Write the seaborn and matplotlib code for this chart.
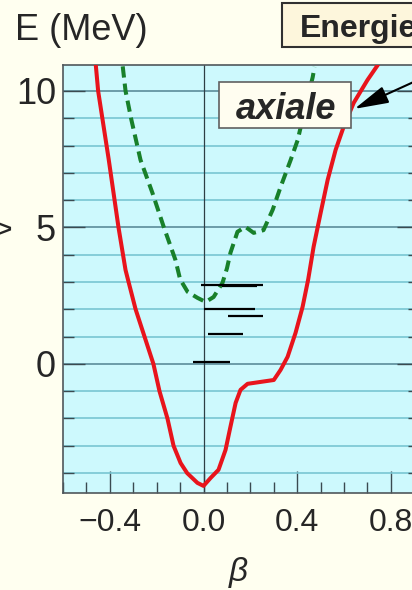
import numpy as np
import pandas as pd
import matplotlib
matplotlib.use('Agg')
import matplotlib.pyplot as plt
import seaborn as sns
from matplotlib.patches import Rectangle, FancyArrowPatch
from matplotlib.ticker import MultipleLocator

# -----------------------------
#   courbe axiale (rouge)
# -----------------------------
red_beta = [-0.47, -0.46, -0.45, -0.405, -0.363, -0.333, -0.32, -0.29, -0.252, -0.214,
            -0.188, -0.154, -0.128, -0.098, -0.07, -0.026, 0.0, 0.03, 0.064, 0.094,
            0.115, 0.137, 0.158, 0.188, 0.244, 0.30, 0.329, 0.359, 0.393, 0.423,
            0.447, 0.47, 0.50, 0.53, 0.564, 0.598, 0.641, 0.70, 0.744, 0.78]
red_E = [11.5, 10.95, 10.0, 7.5, 5.0, 3.44, 3.0, 2.0, 1.0, 0.0,
         -1.0, -2.0, -3.0, -3.63, -4.0, -4.36, -4.47, -4.18, -3.88, -3.15,
         -2.3, -1.43, -0.95, -0.73, -0.66, -0.59, -0.22, 0.26, 1.14, 2.09,
         3.1, 4.29, 5.53, 6.74, 7.84, 8.68, 9.56, 10.4, 10.95, 11.5]

# -----------------------------
#   courbe en tirets (vert)
# -----------------------------
green_beta = [-0.345, -0.333, -0.308, -0.269, -0.218, -0.17, -0.12, -0.1, -0.068, -0.047,
              -0.026, 0.009, 0.043, 0.081, 0.10, 0.115, 0.145, 0.179, 0.214, 0.256,
              0.295, 0.329, 0.372, 0.402, 0.415, 0.44, 0.466, 0.474]
green_E = [10.9, 10.0, 8.94, 7.47, 6.26, 5.02, 3.81, 3.1, 2.64, 2.53,
           2.42, 2.27, 2.45, 2.97, 3.5, 4.07, 4.84, 5.02, 4.8, 4.9,
           5.64, 6.48, 7.47, 8.2, 8.68, 9.6, 10.5, 10.88]

# niveaux (traits noirs)
level_E = [2.9, 2.85, 2.01, 1.76, 1.1, 0.07]
level_lo = [-0.01, 0.08, 0.004, 0.103, 0.017, -0.043]
level_hi = [0.256, 0.23, 0.218, 0.252, 0.167, 0.111]

x_ticks = [-0.4, 0.0, 0.4, 0.8]
x_labels = ['\u22120.4', '0.0', '0.4', '0.8']
y_ticks = [0, 5, 10]
y_labels = ['0', '5', '10']

df_red = pd.DataFrame({'beta': red_beta, 'E': red_E})
df_green = pd.DataFrame({'beta': green_beta, 'E': green_E})

sns.set_style('white')
plt.rcParams['font.family'] = ['Liberation Sans', 'DejaVu Sans']

fig = plt.figure(figsize=(4.12, 5.9), dpi=100, facecolor='#fffff0')
ax = fig.add_axes([63/412, 97/590, 356/412, 428/590])
ax.set_facecolor('#cdf9fd')

sns.lineplot(data=df_red, x='beta', y='E', sort=False, estimator=None,
             color='#e8141c', lw=2.9, ax=ax, zorder=3)
ax.lines[-1].set_solid_joinstyle('round')
sns.lineplot(data=df_green, x='beta', y='E', sort=False, estimator=None,
             color='#18802a', lw=2.9, ax=ax, zorder=3)
ax.lines[-1].set_dashes((2.8, 1.5))

ax.hlines(level_E, level_lo, level_hi, colors='black', lw=1.6, zorder=4)
ax.axvline(0, color='#2e3e44', lw=0.9, zorder=2)

ax.set_xlim(-0.6, 0.92)
ax.set_ylim(-4.73, 10.95)

ax.set_xticks(x_ticks)
ax.set_xticklabels(x_labels, fontsize=23)
ax.xaxis.set_minor_locator(MultipleLocator(0.1))
ax.set_yticks(y_ticks)
ax.set_yticklabels(y_labels, fontsize=26)
ax.yaxis.set_minor_locator(MultipleLocator(1))

ax.set_axisbelow(True)
ax.grid(which='major', axis='y', color='#5c8c9a', lw=1.2)
ax.grid(which='minor', axis='y', color='#78c6d2', lw=1.2)
ax.grid(axis='x', visible=False)

ax.tick_params(axis='x', which='both', direction='in', bottom=True, top=False,
               color='#3a4a50', width=1)
ax.tick_params(axis='x', which='major', length=16, pad=11)
ax.tick_params(axis='x', which='minor', length=8)
ax.tick_params(axis='y', which='both', direction='in', left=True, right=True,
               color='#3a4a50', width=1)
ax.tick_params(axis='y', which='major', length=16, pad=5)
ax.tick_params(axis='y', which='minor', length=8)
for s in ax.spines.values():
    s.set_color('#50585c')
    s.set_linewidth(1.2)
ax.set_xlabel('')
ax.set_ylabel('')

# textes autour
fig.text(15/412, 1 - 31/590, 'E (MeV)', fontsize=26, ha='left', va='center')
fig.text(238/412, 1 - 572/590, '\u03b2', fontsize=24, style='italic', ha='center', va='center')
fig.text(-2/412, 1 - 231/590, '>', fontsize=16, weight='bold', ha='left', va='center')

# boite "axiale" + fleche
fig.add_artist(Rectangle((219/412, 462/590), 132/412, 46/590, transform=fig.transFigure,
                         facecolor='#fffdf0', edgecolor='#606060', lw=1.2, zorder=5))
fig.text(286/412, 1 - 119/590, 'axiale', fontsize=26, weight='bold', style='italic',
         ha='center', va='baseline', zorder=6)
fig.add_artist(FancyArrowPatch((440/412, 1 - 70/590), (352/412, 1 - 110/590),
                               transform=fig.transFigure,
                               arrowstyle='-|>,head_length=0.7,head_width=0.18',
                               mutation_scale=30, color='black', lw=1.5, zorder=6))

# boite "Energie" (coupee)
fig.add_artist(Rectangle((282/412, 543/590), 198/412, 44/590, transform=fig.transFigure,
                         facecolor='#fdf6dc', edgecolor='#303030', lw=1.5, zorder=5))
fig.text(300/412, 1 - 37/590, 'Energie', fontsize=23, weight='bold',
         ha='left', va='baseline', zorder=6)

fig.savefig('out.png', dpi=100, facecolor=fig.get_facecolor())
